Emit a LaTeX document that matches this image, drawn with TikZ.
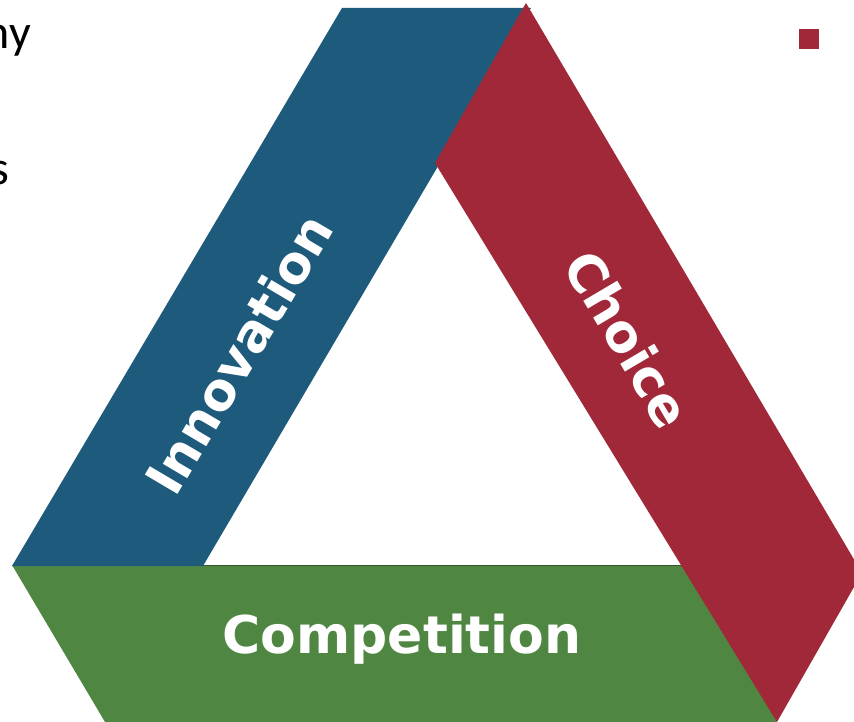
\documentclass[tikz,border=0pt]{standalone}
\usepackage{fontspec}
\setmainfont{Carlito}
\newfontfamily\labelfont{DejaVu Sans}
\definecolor{bandblue}{RGB}{30,90,124}
\definecolor{bandred}{RGB}{161,40,56}
\definecolor{bandgreen}{RGB}{79,134,66}
\definecolor{greenedge}{RGB}{55,85,45}
\tikzset{
  band/.style={draw=none},
  bandlabel/.style={text=white, font=\labelfont\bfseries\fontsize{52}{60}\selectfont, inner sep=0pt},
  cuttext/.style={text=black, font=\fontsize{48}{56}\selectfont, inner sep=0pt},
}
\begin{document}
\begin{tikzpicture}[x=1pt,y=-1pt]
\useasboundingbox (0,0) rectangle (854,722);
\clip (0,0) rectangle (854,722);
% green band
\fill[bandgreen] (12,565) -- (695,565) -- (777,722) -- (105,722) -- cycle;
\draw[greenedge, line width=0.8pt] (12,565) -- (690,565);
% blue band
\fill[bandblue] (12,566) -- (203,566) -- (531,8) -- (342,8) -- cycle;
% red band
\fill[bandred] (526,3) -- (862,573) -- (777,722) -- (435,163) -- cycle;
% labels
\node[bandlabel, anchor=base] (comp) at (402,653) {Competition};
\node[bandlabel, anchor=center, rotate=59.4] (innov) at (239,354) {Innovation};
\node[bandlabel, anchor=center, rotate=-59.4] (choice) at (628,339) {Choice};
% cut-off text at left
\node[cuttext, anchor=base east] (ny) at (31,49) {ny};
\node[cuttext, anchor=base east] (s) at (9,185) {s};
% small red square
\fill[bandred] (799,29) rectangle (819,49);
\end{tikzpicture}
\end{document}
